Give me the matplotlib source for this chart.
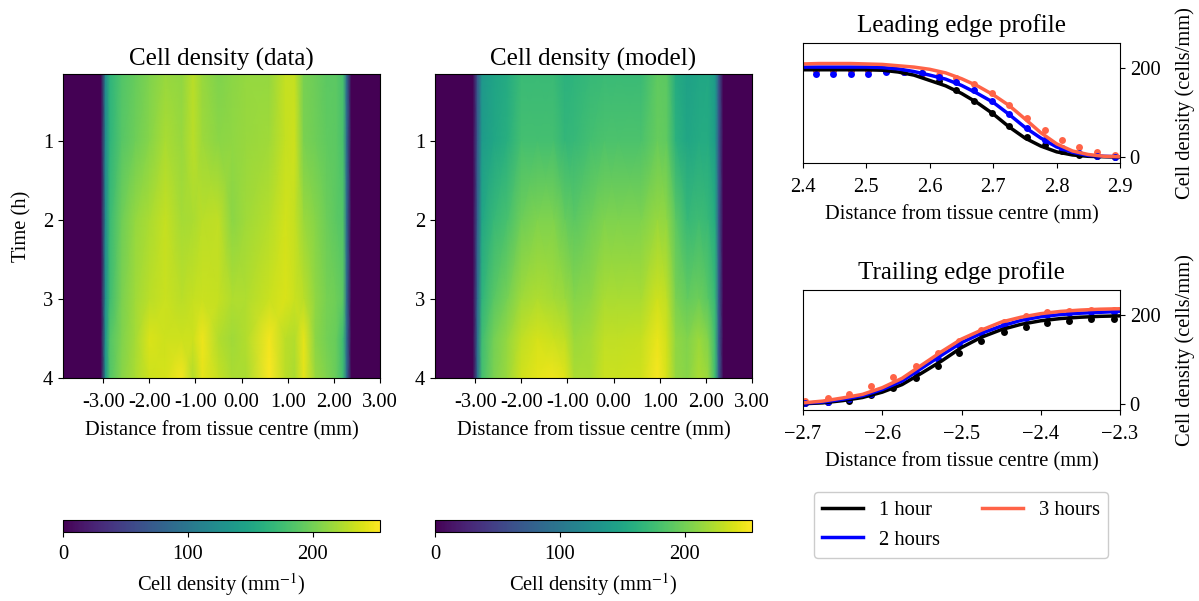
import numpy as np
import matplotlib
matplotlib.use("Agg")
import matplotlib.pyplot as plt

plt.rcParams['font.family'] = ['Liberation Serif', 'DejaVu Serif']
plt.rcParams['mathtext.fontset'] = 'stix'

heat_x = [-3.87,-3.05,-2.95,-2.85,-2.6,-2.3,-2.0,-1.65,-1.3,-1.05,-0.85,-0.5,-0.2,0.1,0.6,0.95,1.15,1.35,1.6,1.85,2.05,2.2,2.28,2.38,3.0]
heat_t = [0.15, 1, 2, 3, 3.5, 4]
data_t015 = [0,0,120,165,185,195,205,215,212,228,215,205,210,214,214,232,232,202,197,190,190,180,90,0,0]
data_t1 = [0,0,120,165,187,198,208,222,215,228,217,210,212,215,218,232,235,203,198,192,190,180,90,0,0]
data_t2 = [0,0,120,172,198,214,222,232,220,222,228,230,210,218,226,237,232,216,208,197,190,185,90,0,0]
data_t3 = [0,0,125,175,203,218,228,234,228,232,234,232,224,224,234,240,234,228,212,202,198,190,90,0,0]
data_t35 = [0,0,130,185,205,220,240,235,235,235,248,225,218,225,250,228,225,245,210,200,195,175,90,0,0]
data_t4 = [0,0,130,185,208,222,235,238,250,225,245,232,222,222,253,228,222,245,215,205,195,175,90,0,0]
model_t015 = [0,0,70,135,148,155,172,172,172,162,165,170,172,172,172,192,190,155,145,150,152,138,70,0,0]
model_t1 = [0,0,70,138,150,160,178,178,178,168,170,178,182,182,182,195,192,162,150,155,155,140,70,0,0]
model_t2 = [0,0,75,150,170,180,198,205,205,195,190,198,205,205,205,215,212,190,170,175,170,155,70,0,0]
model_t3 = [0,0,85,165,188,202,218,224,220,216,208,212,222,222,222,236,230,203,193,198,188,170,75,0,0]
model_t35 = [0,0,90,175,200,214,230,238,234,230,216,220,230,230,232,246,236,212,206,216,206,175,75,0,0]
model_t4 = [0,0,90,178,203,216,236,244,248,242,222,222,234,234,236,252,238,213,208,222,215,175,75,0,0]

lead_dot_x = [2.42,2.448,2.476,2.503,2.531,2.559,2.587,2.614,2.642,2.67,2.698,2.725,2.753,2.781,2.809,2.836,2.864,2.892]
lead_dot_1 = [196,196,196,195,194,192,188,170,151,127,100,71,46,27,13,5,2,0]
lead_dot_2 = [186,186,186,187,190,190,188,180,168,150,125,96,66,39,20,9,3,0]
lead_dot_3 = [196,196,196,196,195,190,187,185,178,164,143,117,87,61,38,22,11,5]
lead_x = [2.4,2.425,2.45,2.475,2.5,2.525,2.55,2.575,2.6,2.625,2.65,2.675,2.7,2.725,2.75,2.775,2.8,2.825,2.85,2.875,2.9]
lead_1 = [196,196,196,196,196,195,191,184,172,160,143,122,97,68,43,25,12,5,2,1,0]
lead_2 = [202,202,202,202,202,201,198,192,184,175,161,143,123,96,67,43,23,11,4,2,1]
lead_3 = [209,210,210,210,209,208,205,202,197,189,176,160,140,116,86,55,30,14,6,2,1]

trail_dot_x = [-2.697,-2.669,-2.642,-2.614,-2.586,-2.558,-2.53,-2.503,-2.475,-2.447,-2.419,-2.392,-2.364,-2.336,-2.308]
trail_dot_1 = [2,4,8,20,36,59,86,115,141,161,174,183,187,190,192]
trail_dot_2 = [3,5,11,22,43,71,101,133,159,178,193,201,205,206,207]
trail_dot_3 = [8,14,23,40,60,86,114,142,166,184,197,206,209,211,212]
trail_x = [-2.7,-2.675,-2.65,-2.625,-2.6,-2.575,-2.55,-2.525,-2.5,-2.475,-2.45,-2.425,-2.4,-2.375,-2.35,-2.325,-2.3]
trail_1 = [1,3,8,15,27,44,70,97,127,150,167,179,187,192,195,197,198]
trail_2 = [2,5,11,19,33,52,81,110,138,159,175,188,196,201,204,206,208]
trail_3 = [3,7,14,22,37,58,88,118,146,166,184,195,203,208,211,213,214]

series_labels = ['1 hour', '2 hours', '3 hours']
series_colors = ['black', 'blue', 'tomato']
dot_order = [0, 2, 1]
heat_ticks = [-3, -2, -1, 0, 1, 2, 3]
heat_tick_labels = ['-3.00', '-2.00', '-1.00', '0.00', '1.00', '2.00', '3.00']
VMAX = 254

W, H = 1199, 601
fig = plt.figure(figsize=(W/100, H/100), dpi=100)

def axpx(x0, y0, x1, y1):
    return fig.add_axes([x0/W, 1-y1/H, (x1-x0)/W, (y1-y0)/H])

XL = 14.8
TS = 18

def heat(box, rows, title, cbox, ylabel):
    ax = axpx(*box)
    m = ax.pcolormesh(heat_x, heat_t, np.array(rows), shading='gouraud', cmap='viridis', vmin=0, vmax=VMAX)
    ax.set_xlim(-3.87, 3.0)
    ax.set_ylim(4, 0.15)
    ax.set_xticks(heat_ticks, heat_tick_labels)
    ax.set_yticks([1, 2, 3, 4])
    ax.tick_params(labelsize=XL)
    ax.tick_params(axis='x', pad=7.5)
    ax.set_xlabel('Distance from tissue centre (mm)', fontsize=XL, labelpad=6)
    if ylabel:
        ax.set_ylabel('Time (h)', fontsize=XL, labelpad=8)
    ax.set_title(title, fontsize=TS, pad=6)
    cax = axpx(*cbox)
    cb = fig.colorbar(m, cax=cax, orientation='horizontal')
    cb.set_ticks([0, 100, 200])
    cb.ax.tick_params(labelsize=XL, pad=6)
    cb.set_label('Cell density (mm$^{-1}$)', fontsize=XL, labelpad=5)

heat((63, 74, 380, 378), [data_t015, data_t1, data_t2, data_t3, data_t35, data_t4],
     'Cell density (data)', (63, 520, 380, 532), True)
heat((435, 74, 752, 378), [model_t015, model_t1, model_t2, model_t3, model_t35, model_t4],
     'Cell density (model)', (435, 520, 752, 532), False)

def profile(box, dx, dots, lx, lines, title, xlim, xticks):
    ax = axpx(*box)
    for i in dot_order:
        ax.plot(dx, dots[i], 'o', color=series_colors[i], ms=5, mew=0)
    handles = []
    for l, c, n in zip(lines, series_colors, series_labels):
        handles.append(ax.plot(lx, l, '-', color=c, lw=2.5, label=n)[0])
    ax.set_xlim(*xlim)
    ax.set_ylim(-13, 256)
    ax.set_xticks(xticks)
    ax.set_yticks([0, 200])
    ax.yaxis.tick_right()
    ax.yaxis.set_label_position('right')
    ax.tick_params(labelsize=XL)
    ax.tick_params(axis='x', pad=7)
    ax.set_xlabel('Distance from tissue centre (mm)', fontsize=XL, labelpad=6)
    ax.set_ylabel('Cell density (cells/mm)', fontsize=XL, labelpad=11)
    ax.set_title(title, fontsize=TS, pad=8)
    return handles

profile((803, 43, 1120, 163), lead_dot_x, [lead_dot_1, lead_dot_2, lead_dot_3],
        lead_x, [lead_1, lead_2, lead_3], 'Leading edge profile', (2.4, 2.9),
        [2.4, 2.5, 2.6, 2.7, 2.8, 2.9])
h = profile((803, 290, 1120, 410), trail_dot_x, [trail_dot_1, trail_dot_2, trail_dot_3],
        trail_x, [trail_1, trail_2, trail_3], 'Trailing edge profile', (-2.7, -2.3),
        [-2.7, -2.6, -2.5, -2.4, -2.3])

fig.legend(h, series_labels, ncol=2, fontsize=XL, loc='center',
           bbox_to_anchor=(961/W, 1-525/H), framealpha=1)

fig.savefig('out.png', dpi=100)
